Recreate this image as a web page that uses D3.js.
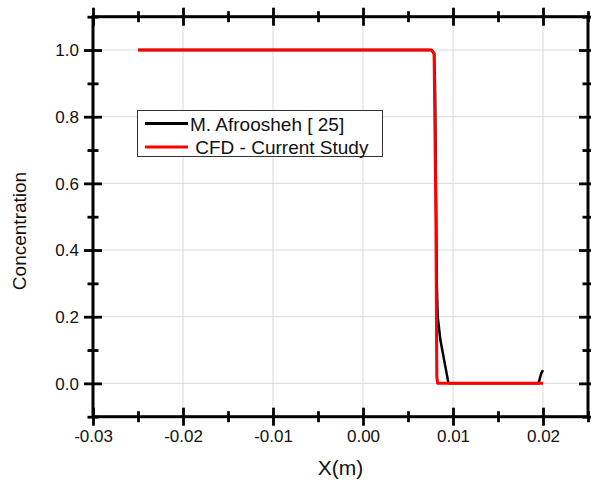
<!DOCTYPE html>
<html><head><meta charset="utf-8">
<script src="https://cdn.jsdelivr.net/npm/d3@7"></script>
<style>body{margin:0;background:#fff;}svg{display:block;font-family:Arial,"Liberation Sans",sans-serif;}</style>
</head><body><svg id="c" width="591" height="485"></svg>
<script>
// Data
const afrooshehX = [-0.025, 0.0076, 0.0079, 0.0080, 0.0081, 0.0082, 0.0083, 0.0086, 0.0095, 0.0195, 0.0198, 0.0200];
const afrooshehY = [1.0, 1.0, 0.99, 0.90, 0.60, 0.30, 0.20, 0.13, 0.0, 0.0, 0.03, 0.04];
const cfdX = [-0.025, 0.0076, 0.0079, 0.0081, 0.0082, 0.0083, 0.0200];
const cfdY = [1.0, 1.0, 0.99, 0.50, 0.02, 0.0, 0.0];
const xTicks = [-0.03, -0.02, -0.01, 0.00, 0.01, 0.02];
const xMinor = [-0.025, -0.015, -0.005, 0.005, 0.015, 0.025];
const yTicks = [0.0, 0.2, 0.4, 0.6, 0.8, 1.0];
const yMinor = [-0.1, 0.1, 0.3, 0.5, 0.7, 0.9, 1.1];
const seriesNames = ["M. Afroosheh [ 25]", " CFD - Current Study"];
const seriesColors = ["#000000", "#ff0000"];

const L = 93, R = 588, T = 16.7, B = 416.7;
const svg = d3.select("#c");
const x = d3.scaleLinear().domain([-0.03, 0.025]).range([L, R]);
const y = d3.scaleLinear().domain([-0.1, 1.1]).range([B, T]);

// grid
svg.append("g").selectAll("line").data(xTicks.filter(d => d > -0.03)).join("line")
  .attr("x1", d => x(d)).attr("x2", d => x(d)).attr("y1", T).attr("y2", B)
  .attr("stroke", "#d9d9d9").attr("stroke-width", 1);
svg.append("g").selectAll("line").data(yTicks).join("line")
  .attr("x1", L).attr("x2", R).attr("y1", d => y(d)).attr("y2", d => y(d))
  .attr("stroke", "#d9d9d9").attr("stroke-width", 1);

// lines
const line = d3.line().x(d => x(d[0])).y(d => y(d[1]));
const blackData = afrooshehX.map((v, i) => [v, afrooshehY[i]]);
const redData = cfdX.map((v, i) => [v, cfdY[i]]);
svg.append("path").datum(blackData).attr("d", line).attr("fill", "none")
  .attr("stroke", seriesColors[0]).attr("stroke-width", 2.5).attr("stroke-linejoin", "round");
svg.append("path").datum(redData).attr("d", line).attr("fill", "none")
  .attr("stroke", seriesColors[1]).attr("stroke-width", 3).attr("stroke-linejoin", "round");

// axes
function styleAxis(g, major, horiz) {
  g.select(".domain").remove();
  g.selectAll(".tick line").attr("stroke", "#000").attr("stroke-width", 2.8);
  if (horiz) g.selectAll(".tick line").attr("y1", major ? -9 : -5.5).attr("y2", major ? 9 : 5.5);
  else g.selectAll(".tick line").attr("x1", major ? -9 : -5.5).attr("x2", major ? 9 : 5.5);
}
const fmt = d => d3.format(".2f")(d).replace("\u2212", "-");
const gb = svg.append("g").attr("transform", `translate(0,${B})`)
  .call(d3.axisBottom(x).tickValues(xTicks).tickFormat(fmt));
styleAxis(gb, true, true);
gb.selectAll(".tick text").attr("y", 13).attr("dy", "0.71em").attr("font-size", 17).attr("fill", "#111").attr("font-family", "Arial, 'Liberation Sans', sans-serif");
const gbm = svg.append("g").attr("transform", `translate(0,${B})`)
  .call(d3.axisBottom(x).tickValues(xMinor).tickFormat(""));
styleAxis(gbm, false, true);
const gt = svg.append("g").attr("transform", `translate(0,${T})`)
  .call(d3.axisTop(x).tickValues(xTicks).tickFormat(""));
styleAxis(gt, true, true);
const gtm = svg.append("g").attr("transform", `translate(0,${T})`)
  .call(d3.axisTop(x).tickValues(xMinor).tickFormat(""));
styleAxis(gtm, false, true);

const gl = svg.append("g").attr("transform", `translate(${L},0)`)
  .call(d3.axisLeft(y).tickValues(yTicks).tickFormat(d3.format(".1f")));
styleAxis(gl, true, false);
gl.selectAll(".tick text").attr("x", -14).attr("dy", "0.35em").attr("font-size", 17).attr("fill", "#111").attr("font-family", "Arial, 'Liberation Sans', sans-serif");
const glm = svg.append("g").attr("transform", `translate(${L},0)`)
  .call(d3.axisLeft(y).tickValues(yMinor).tickFormat(""));
styleAxis(glm, false, false);
const gr = svg.append("g").attr("transform", `translate(${R},0)`)
  .call(d3.axisRight(y).tickValues(yTicks).tickFormat(""));
styleAxis(gr, true, false);
const grm = svg.append("g").attr("transform", `translate(${R},0)`)
  .call(d3.axisRight(y).tickValues(yMinor).tickFormat(""));
styleAxis(grm, false, false);

// frame
svg.append("rect").attr("x", L).attr("y", T).attr("width", R - L).attr("height", B - T)
  .attr("fill", "none").attr("stroke", "#000").attr("stroke-width", 3);

// axis titles
svg.append("text").attr("x", (L + R) / 2).attr("y", 475).attr("text-anchor", "middle")
  .attr("font-size", 21).attr("fill", "#111").text("X(m)");
svg.append("text").attr("transform", "translate(26,231) rotate(-90)").attr("text-anchor", "middle")
  .attr("font-size", 19).attr("fill", "#111").text("Concentration");

// legend
const lg = svg.append("g");
lg.append("rect").attr("x", 137.5).attr("y", 110.5).attr("width", 245).attr("height", 46)
  .attr("fill", "#fff").attr("stroke", "#333").attr("stroke-width", 1);
seriesNames.forEach((n, i) => {
  const yy = 123.5 + i * 23.5;
  lg.append("line").attr("x1", 145).attr("x2", 188).attr("y1", yy).attr("y2", yy)
    .attr("stroke", seriesColors[i]).attr("stroke-width", 3);
  lg.append("text").attr("x", 190).attr("y", yy + 7).attr("font-size", 19).attr("fill", "#111")
    .attr("xml:space", "preserve").style("white-space", "pre").text(n);
});
</script></body></html>
